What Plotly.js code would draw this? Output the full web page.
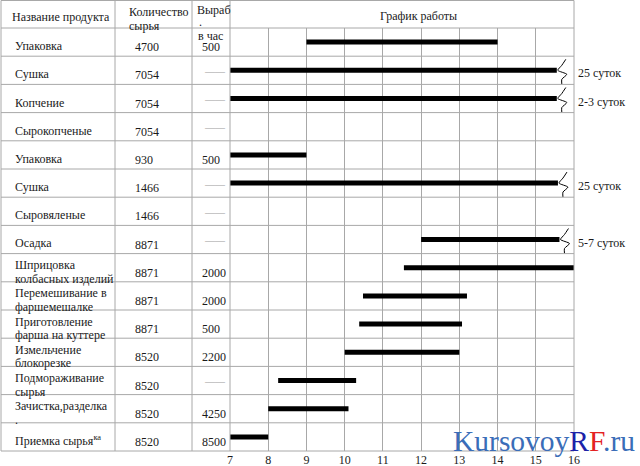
<!DOCTYPE html>
<html><head><meta charset="utf-8">
<script src="https://cdn.plot.ly/plotly-3.0.1.min.js"></script>
<style>html,body{margin:0;padding:0;background:#fff}#c{width:640px;height:466px}</style>
</head><body><div id="c"></div>
<script>
// ---- data ----
const productNames = [
  ["Упаковка"], ["Сушка"], ["Копчение"], ["Сырокопченые"], ["Упаковка"],
  ["Сушка"], ["Сыровяленые"], ["Осадка"], ["Шприцовка", "колбасных изделий"],
  ["Перемешивание в", "фаршемешалке"], ["Приготовление", "фарша на куттере"],
  ["Измельчение", "блокорезке"], ["Подмораживание", "сырья"],
  ["Зачистка,разделка", "."], ["Приемка сырья<sup>ка</sup>"]
];
const rawQty = ["4700","7054","7054","7054","930","1466","1466","8871","8871","8871","8871","8520","8520","8520","8520"];
const ratePerHour = ["500","","","","500","","","","2000","2000","500","2200","","4250","8500"];
const startHour = [9, 7, 7, null, 7, 7, null, 12, 11.55, 10.48, 10.38, 10.0, 8.26, 8.0, 7];
const endHour   = [14, 15.55, 15.55, null, 9, 15.58, null, 15.62, 16, 13.2, 13.07, 13.0, 10.3, 10.1, 8];
const durationNote = ["", "25 суток", "2-3 суток", "", "", "25 суток", "", "5-7 суток", "", "", "", "", "", "", ""];
const hourTicks = [7, 8, 9, 10, 11, 12, 13, 14, 15, 16];
const headers = {name: "Название продукта", qty: ["Количество", "сырья"], rate: ["Выраб", ".", "в час"], chart: "График работы"};

// ---- geometry ----
const W = 640, H = 466;
const X0 = 230, X1 = 574, Y0 = 28, Y1 = 451;
const nRows = productNames.length;
const rowH = (Y1 - Y0) / nRows;
const hourPx = (X1 - X0) / 9;
const px = x => x / W, py = y => 1 - y / H;
const FONT = "'Liberation Serif', 'DejaVu Serif', serif";
const LINE = "#a8a8a8";
const TXT = "#1a1a1a";

// bars
const bx = [], by = [];
startHour.forEach((s, i) => {
  if (s === null) return;
  bx.push(s, endHour[i], null); by.push(i + 1, i + 1, null);
});
const traces = [{x: bx, y: by, mode: "lines", line: {color: "#000", width: 5}, hoverinfo: "skip", cliponaxis: false, showlegend: false}];

// break squiggles (pixel offsets from the bar end) for bars continuing beyond the chart
const sq = [[9,-11],[5,-5],[1,0],[10,4],[5,9],[5,14]];
durationNote.forEach((n, i) => {
  if (!n) return;
  traces.push({
    x: sq.map(p => endHour[i] + p[0] / hourPx),
    y: sq.map(p => i + 1 + p[1] / rowH),
    mode: "lines", line: {color: "#000", width: 1, shape: "spline", smoothing: 0.6},
    hoverinfo: "skip", cliponaxis: false, showlegend: false
  });
});

const shapes = [];
const hline = (y, x0, x1) => shapes.push({type: "line", xref: "paper", yref: "paper", x0: px(x0), x1: px(x1), y0: py(y), y1: py(y), line: {color: LINE, width: 1}});
const vline = (x, y0, y1) => shapes.push({type: "line", xref: "paper", yref: "paper", x0: px(x), x1: px(x), y0: py(y0), y1: py(y1), line: {color: LINE, width: 1}});
hline(0.5, 1, X1);
for (let i = 0; i <= nRows; i++) hline(Y0 + i * rowH, 1, X1);
[1, 115, 192, X0, X1].forEach(x => vline(x, 0.5, Y1));

const ann = [];
const txt = (text, x, y, opts = {}) => ann.push(Object.assign({
  text, xref: "paper", yref: "paper", x: px(x), y: py(y), xanchor: "left", yanchor: "middle",
  showarrow: false, font: {family: FONT, size: 12, color: TXT}
}, opts));

// header
txt(headers.name, 10, 17);
txt(headers.qty[0], 127, 12);
txt(headers.qty[1], 127, 26);
txt(headers.rate[0], 195, 10);
txt(headers.rate[1], 197, 22);
txt(headers.rate[2], 196, 36);
txt(headers.chart, 418, 16, {xanchor: "center"});

// rows
productNames.forEach((lines, i) => {
  const c = Y0 + (i + 0.5) * rowH;
  if (lines.length === 1) txt(lines[0], 13, c + 4);
  else { txt(lines[0], 13, c - 2.5); txt(lines[1], 13, c + 11); }
  txt(rawQty[i], 133, c + 5);
  if (ratePerHour[i]) txt(ratePerHour[i], 200, c + 5);
  else txt("——", 202, c + 1, {font: {family: FONT, size: 10, color: "#9a9a9a"}});
  if (durationNote[i]) ann.push({text: durationNote[i], xref: "x", yref: "y", x: 16, y: i + 1 + 3 / rowH,
    xanchor: "left", yanchor: "middle", xshift: 2, showarrow: false, font: {family: FONT, size: 12, color: TXT}});
});

// watermark
txt('<span style="color:#3a6db8">Kursovoy</span><span style="color:#1c22a8">R</span><span style="color:#e42222">F</span><span style="color:#3a6db8">.ru</span>',
  451, 441, {font: {family: FONT, size: 29.5, color: "#3a6db8"}});

const layout = {
  width: W, height: H, margin: {l: 0, r: 0, t: 0, b: 0},
  paper_bgcolor: "#fff", plot_bgcolor: "rgba(0,0,0,0)",
  font: {family: FONT, size: 12, color: TXT},
  showlegend: false,
  xaxis: {domain: [px(X0), px(X1)], range: [7, 16], tickvals: hourTicks, ticktext: hourTicks.map(String),
    showgrid: true, gridcolor: LINE, gridwidth: 1, zeroline: false, showline: false, ticks: "",
    tickfont: {family: FONT, size: 12, color: TXT}, fixedrange: true},
  yaxis: {domain: [py(Y1), py(Y0)], range: [nRows + 0.5, 0.5], showgrid: false, zeroline: false,
    showticklabels: false, ticks: "", fixedrange: true},
  shapes, annotations: ann
};
Plotly.newPlot("c", traces, layout, {staticPlot: true, displayModeBar: false});
</script></body></html>
